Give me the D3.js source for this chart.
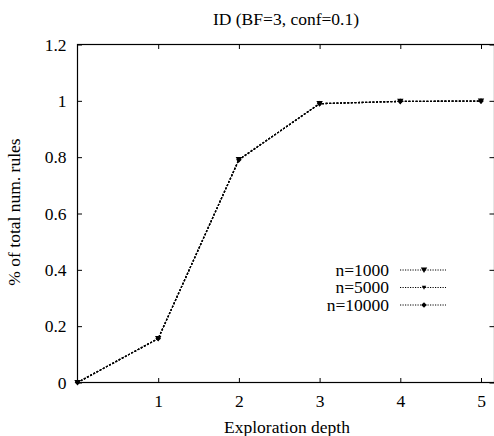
<!DOCTYPE html>
<html><head><meta charset="utf-8">
<script src="https://cdn.jsdelivr.net/npm/d3@7"></script>
</head>
<body style="margin:0;background:#fff">
<svg id="chart" width="494" height="436" style="display:block"></svg>
<script>
const depths = [0, 1, 2, 3, 4, 5];
const seriesNames = ["n=1000", "n=5000", "n=10000"];
const n1000 = [0, 0.156, 0.791, 0.990, 0.998, 0.999];
const n5000 = [0, 0.156, 0.791, 0.990, 0.998, 0.999];
const n10000 = [0, 0.156, 0.791, 0.990, 0.998, 0.999];
const xTicks = [1, 2, 3, 4, 5];
const yTicks = [0, 0.2, 0.4, 0.6, 0.8, 1, 1.2];
const titleText = "ID (BF=3, conf=0.1)";
const xLabel = "Exploration depth";
const yLabel = "% of total num. rules";

const seriesValues = [n1000, n5000, n10000];
const markers = ["tri", "smalltri", "diamond"];
const FONT = "Liberation Serif";
const fs = 17.5;

const svg = d3.select("#chart");
const L = 77.5, R = 494.5, T = 44.5, B = 382.5;
const x = d3.scaleLinear().domain([0, 5]).range([L, 481]);
const y = d3.scaleLinear().domain([0, 1.2]).range([B, T]);

svg.append("rect").attr("x", L).attr("y", T).attr("width", R - L).attr("height", B - T)
  .attr("fill", "none").attr("stroke", "#000").attr("stroke-width", 1.2);

const tl = 4.5;
const xAxisB = d3.axisBottom(x).tickValues(xTicks).tickSizeInner(-tl).tickSizeOuter(0).tickPadding(12).tickFormat(d3.format("d"));
const gxb = svg.append("g").attr("transform", `translate(0,${B})`).call(xAxisB)
  .attr("font-family", FONT).attr("font-size", fs);
gxb.select(".domain").remove();
gxb.selectAll("text").attr("fill", "#000");
gxb.selectAll("line").attr("stroke", "#000");
const xAxisT = d3.axisTop(x).tickValues(xTicks).tickSizeInner(-tl).tickSizeOuter(0).tickFormat("");
const gxt = svg.append("g").attr("transform", `translate(0,${T})`).call(xAxisT);
gxt.select(".domain").remove();
gxt.selectAll("line").attr("stroke", "#000");

const yAxisL = d3.axisLeft(y).tickValues(yTicks).tickSizeInner(-tl).tickSizeOuter(0).tickPadding(11).tickFormat(d => String(+d.toFixed(1)));
const gyl = svg.append("g").attr("transform", `translate(${L},0)`).call(yAxisL)
  .attr("font-family", FONT).attr("font-size", fs);
gyl.select(".domain").remove();
gyl.selectAll("text").attr("fill", "#000");
gyl.selectAll("line").attr("stroke", "#000");
const yAxisR = d3.axisRight(y).tickValues(yTicks).tickSizeInner(-tl).tickSizeOuter(0).tickFormat("");
const gyr = svg.append("g").attr("transform", `translate(${R - 0.5},0)`).call(yAxisR);
gyr.select(".domain").remove();
gyr.selectAll("line").attr("stroke", "#000");

function addText(parent) { return parent.append("text").attr("font-family", FONT).attr("font-size", fs).attr("fill", "#000"); }
addText(svg).attr("x", 286).attr("y", 25).attr("text-anchor", "middle").text(titleText);
addText(svg).attr("x", 287).attr("y", 433).attr("text-anchor", "middle").text(xLabel);
addText(svg).attr("transform", "translate(20,212) rotate(-90)").attr("text-anchor", "middle").text(yLabel);

function markerPath(type) {
  if (type === "tri") return "M-3.2,-2.6L3.2,-2.6L0,3Z";
  if (type === "smalltri") return "M-2.2,-1.8L2.2,-1.8L0,2.2Z";
  return "M0,-2.8L2.8,0L0,2.8L-2.8,0Z";
}

const line = d3.line().x((d, i) => x(depths[i])).y(d => y(d));
seriesValues.forEach((vals) => {
  svg.append("path").datum(vals).attr("d", line).attr("fill", "none")
    .attr("stroke", "#000").attr("stroke-width", 1.3).attr("stroke-dasharray", "2,1.6");
});
seriesValues.forEach((vals, si) => {
  svg.append("g").selectAll("path").data(vals).enter().append("path")
    .attr("transform", (d, i) => `translate(${x(depths[i])},${y(d)})`)
    .attr("d", markerPath(markers[si])).attr("fill", "#000");
});

const lg = svg.append("g");
seriesNames.forEach((name, i) => {
  const yy = 270 + i * 17.5;
  addText(lg).attr("x", 389).attr("y", yy + 5.5).attr("text-anchor", "end").text(name);
  lg.append("line").attr("x1", 400).attr("x2", 446).attr("y1", yy).attr("y2", yy)
    .attr("stroke", "#000").attr("stroke-width", 1).attr("stroke-dasharray", "1.2,1.3");
  lg.append("path").attr("transform", `translate(424,${yy})`)
    .attr("d", markerPath(markers[i])).attr("fill", "#000");
});
</script>
</body></html>
